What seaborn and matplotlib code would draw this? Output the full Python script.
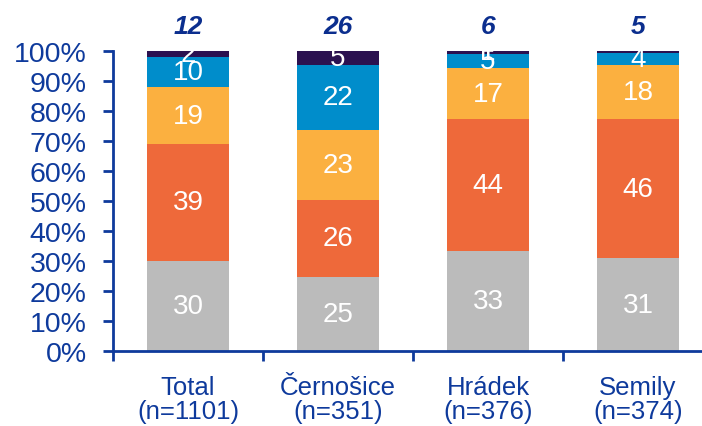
import matplotlib
matplotlib.use("Agg")
import matplotlib.pyplot as plt
import seaborn as sns
import numpy as np
from matplotlib.ticker import FixedLocator, FuncFormatter

categories = ["Total\n(n=1101)", "Černošice\n(n=351)", "Hrádek\n(n=376)", "Semily\n(n=374)"]
seg_gray = [30.0, 24.7, 33.3, 30.9]
seg_red = [39.0, 25.6, 44.0, 46.3]
seg_yellow = [19.0, 23.4, 16.9, 18.2]
seg_blue = [10.0, 21.7, 4.9, 3.8]
seg_dark = [2.0, 4.6, 0.9, 0.8]
dark_labels = ["2", "5", "1", ""]
top_totals = ["12", "26", "6", "5"]

colors = ["#BBBBBB", "#EE693A", "#FBB040", "#008DCB", "#2B1150"]
axis_blue = "#0E3A9C"

sns.set_theme(style="white")
plt.rcParams["font.family"] = ["Liberation Sans", "DejaVu Sans"]

fig = plt.figure(figsize=(7.02, 4.27), dpi=100)
ax = fig.add_axes([113/702, 75/427, 600/702, 300/427])

layers = [seg_gray, seg_red, seg_yellow, seg_blue, seg_dark]
bottom = np.zeros(len(categories))
x = np.arange(len(categories))
for li, (vals, col) in enumerate(zip(layers, colors)):
    sns.barplot(x=categories, y=vals, bottom=bottom, color=col, width=0.55,
                ax=ax, linewidth=0, saturation=1)
    for i, v in enumerate(vals):
        lab = dark_labels[i] if li == len(layers) - 1 else str(int(round(v)))
        if lab:
            ax.text(i, bottom[i] + v / 2, lab, ha="center", va="center",
                    color="white", fontsize=20)
    bottom = bottom + np.array(vals)

for i, t in enumerate(top_totals):
    ax.text(i, 108.5, t, ha="center", va="center", color="#0B2E8E",
            fontsize=19, fontweight="bold", fontstyle="italic", clip_on=False)

ax.set_xlim(-0.5, 3.5)
ax.set_ylim(0, 100)
ax.yaxis.set_major_locator(FixedLocator(np.arange(0, 101, 10)))
ax.yaxis.set_major_formatter(FuncFormatter(lambda v, p: f"{int(v)}%"))
ax.tick_params(axis="y", which="major", left=True, length=7, width=2,
               color=axis_blue, labelcolor=axis_blue, labelsize=20.5, pad=12)
ax.set_xticks(x)
ax.set_xticklabels(categories, fontsize=18.5, color=axis_blue, linespacing=1.0)
ax.tick_params(axis="x", which="major", length=0, pad=17)
ax.set_xticks(np.arange(-0.5, 3.6, 1.0), minor=True)
ax.tick_params(axis="x", which="minor", bottom=True, length=7, width=2, color=axis_blue)
ax.set_xlabel("")
ax.set_ylabel("")

for s in ["top", "right"]:
    ax.spines[s].set_visible(False)
for s in ["left", "bottom"]:
    ax.spines[s].set_color(axis_blue)
    ax.spines[s].set_linewidth(2)

fig.savefig("out.png", dpi=100, facecolor="white")
